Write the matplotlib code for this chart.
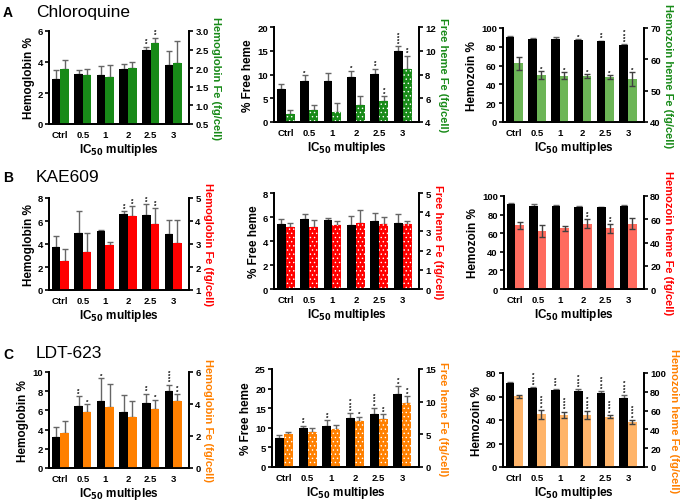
import matplotlib.pyplot as plt
import numpy as np

plt.rcParams['font.family'] = ['Liberation Sans', 'DejaVu Sans']
plt.rcParams['hatch.linewidth'] = 0.5

groups = ["Ctrl", "0.5", "1", "2", "2.5", "3"]

# Chloroquine
cq_hb = [2.9, 3.2, 3.16, 3.55, 4.76, 3.78]
cq_hb_err = [0.6, 0.26, 0.6, 0.34, 0.24, 0.9]
cq_hb_stars = [0, 0, 0, 0, 2, 0]
cq_hbfe = [1.99, 1.82, 1.77, 2.0, 2.69, 2.15]
cq_hbfe_err = [0.24, 0.15, 0.31, 0.18, 0.13, 0.57]
cq_hbfe_stars = [0, 0, 0, 0, 2, 0]

cq_fh = [6.9, 8.7, 8.7, 9.5, 10.2, 14.9]
cq_fh_err = [1.0, 1.1, 1.6, 1.3, 1.0, 1.0]
cq_fh_stars = [0, 1, 0, 1, 2, 4]
cq_fhfe = [4.7, 5.03, 4.86, 5.4, 5.8, 8.5]
cq_fhfe_err = [0.33, 0.42, 0.74, 0.75, 0.4, 1.1]
cq_fhfe_stars = [0, 0, 0, 0, 2, 2]

cq_hz = [90, 88.6, 88.3, 87.2, 85.8, 81.6]
cq_hz_err = [2.0, 0.8, 1.8, 1.1, 0.8, 1.1]
cq_hz_stars = [0, 0, 0, 1, 2, 4]
cq_hzfe = [58.8, 55.0, 54.8, 54.6, 54.4, 53.7]
cq_hzfe_err = [2.1, 1.3, 1.1, 0.7, 0.6, 2.2]
cq_hzfe_stars = [0, 1, 1, 1, 1, 1]

# KAE609
kae_hb = [3.7, 4.94, 5.15, 6.63, 6.5, 4.85]
kae_hb_err = [1.0, 1.9, 0.07, 0.23, 0.97, 1.25]
kae_hb_stars = [0, 0, 0, 2, 2, 0]
kae_hbfe = [2.24, 2.67, 2.95, 4.2, 3.88, 3.05]
kae_hbfe_err = [0.55, 0.83, 0.15, 0.44, 0.67, 1.0]
kae_hbfe_stars = [0, 0, 0, 2, 2, 0]

kae_fh = [5.4, 5.84, 5.76, 5.37, 5.68, 5.48]
kae_fh_err = [0.4, 0.42, 0.17, 0.73, 0.69, 0.75]
kae_fh_stars = [0, 0, 0, 0, 0, 0]
kae_fhfe = [3.25, 3.24, 3.34, 3.43, 3.39, 3.39]
kae_fhfe_err = [0.18, 0.36, 0.22, 0.67, 0.36, 0.17]
kae_fhfe_stars = [0, 0, 0, 0, 0, 0]

kae_hz = [91, 89.3, 89.3, 88.3, 87.9, 89.7]
kae_hz_err = [1.5, 2.5, 0.5, 1.0, 0.7, 0.8]
kae_hz_stars = [0, 0, 0, 0, 0, 0]
kae_hzfe = [54.7, 49.6, 52.1, 56.1, 52.1, 56.1]
kae_hzfe_err = [2.8, 5.1, 2.0, 3.7, 3.5, 4.6]
kae_hzfe_stars = [0, 0, 0, 2, 2, 0]

# LDT-623
ldt_hb = [3.2, 6.43, 7.0, 5.84, 6.82, 8.0]
ldt_hb_err = [1.1, 1.02, 2.34, 1.76, 0.94, 0.67]
ldt_hb_stars = [0, 2, 1, 0, 2, 4]
ldt_hbfe = [2.2, 3.5, 3.84, 3.19, 3.71, 4.19]
ldt_hbfe_err = [0.74, 0.5, 1.44, 1.02, 0.55, 0.44]
ldt_hbfe_stars = [0, 1, 0, 0, 1, 2]

ldt_fh = [7.5, 9.86, 10.5, 12.6, 13.6, 18.5]
ldt_fh_err = [0.6, 0.64, 1.4, 1.1, 1.45, 2.2]
ldt_fh_stars = [0, 2, 2, 4, 4, 2]
ldt_fhfe = [5.05, 5.4, 5.77, 7.04, 7.4, 9.74]
ldt_fhfe_err = [0.35, 0.5, 0.71, 0.66, 0.7, 1.13]
ldt_fhfe_stars = [0, 0, 0, 1, 2, 2]

ldt_hz = [71.7, 66.9, 65.7, 64.9, 63.4, 58.9]
ldt_hz_err = [0.6, 0.9, 1.1, 1.1, 1.1, 2.0]
ldt_hz_stars = [0, 4, 3, 4, 4, 4]
ldt_hzfe = [75.4, 56.0, 55.4, 55.4, 53.6, 47.9]
ldt_hzfe_err = [1.6, 4.7, 3.5, 3.9, 1.8, 2.1]
ldt_hzfe_stars = [0, 4, 4, 4, 4, 4]

green = "#188a18"
green_l = "#6cb556"
red = "#ff0000"
red_l = "#ff6b5e"
orange = "#ff8000"
orange_l = "#ffb469"

# (left, right, top, bottom) in pixels, left data, right data, axis settings
panels = [
    ((49, 189, 32, 125), cq_hb, cq_hb_err, cq_hb_stars, cq_hbfe, cq_hbfe_err, cq_hbfe_stars,
     (0, 6, 2), (0.5, 3.0, 0.5), "Hemoglobin %", "Hemoglobin Fe (fg/cell)", green, green, None, False),
    ((274, 419, 28, 123), cq_fh, cq_fh_err, cq_fh_stars, cq_fhfe, cq_fhfe_err, cq_fhfe_stars,
     (0, 20, 5), (4, 12, 2), "% Free heme", "Free heme Fe (fg/cell)", green, green, "....", False),
    ((503, 644, 29, 123), cq_hz, cq_hz_err, cq_hz_stars, cq_hzfe, cq_hzfe_err, cq_hzfe_stars,
     (0, 100, 20), (40, 70, 10), "Hemozoin %", "Hemozoin heme Fe (fg/cell)", green_l, green, None, True),
    ((49, 189, 199, 291), kae_hb, kae_hb_err, kae_hb_stars, kae_hbfe, kae_hbfe_err, kae_hbfe_stars,
     (0, 8, 2), (1, 5, 1), "Hemoglobin %", "Hemoglobin Fe (fg/cell)", red, red, None, False),
    ((274, 419, 194, 290), kae_fh, kae_fh_err, kae_fh_stars, kae_fhfe, kae_fhfe_err, kae_fhfe_stars,
     (0, 8, 2), (0, 5, 1), "% Free heme", "Free heme Fe (fg/cell)", red, red, "....", False),
    ((504, 644, 197, 290), kae_hz, kae_hz_err, kae_hz_stars, kae_hzfe, kae_hzfe_err, kae_hzfe_stars,
     (0, 100, 20), (0, 80, 20), "Hemozoin %", "Hemozoin heme Fe (fg/cell)", red_l, red, None, True),
    ((49, 189, 373, 469), ldt_hb, ldt_hb_err, ldt_hb_stars, ldt_hbfe, ldt_hbfe_err, ldt_hbfe_stars,
     (0, 10, 2), (0, 6, 2), "Hemoglobin %", "Hemoglobin Fe (fg/cell)", orange, orange, None, False),
    ((272, 419, 370, 468), ldt_fh, ldt_fh_err, ldt_fh_stars, ldt_fhfe, ldt_fhfe_err, ldt_fhfe_stars,
     (0, 25, 5), (0, 15, 5), "% Free heme", "Free heme Fe (fg/cell)", orange, orange, "....", False),
    ((503, 644, 374, 468), ldt_hz, ldt_hz_err, ldt_hz_stars, ldt_hzfe, ldt_hzfe_err, ldt_hzfe_stars,
     (0, 80, 20), (0, 100, 20), "Hemozoin %", "Hemozoin heme Fe (fg/cell)", orange_l, orange, None, True),
]

W, H = 684, 502
fig = plt.figure(figsize=(W / 100, H / 100), dpi=100)

x = np.arange(len(groups))
bw = 0.38
errc = "0.4"


def stars(ax, xs, tops, counts):
    for xi, t, n in zip(xs, tops, counts):
        if n:
            ax.annotate("\n".join("*" * n), (xi, t), xytext=(0, 0.3), textcoords="offset points",
                        ha="center", va="bottom", fontsize=4.5, fontweight="bold",
                        linespacing=0.55)


for (box, lv, le, ls, rv, re, rs, lax, rax, llab, rlab, col, labcol, hatch, sym) in panels:
    l, r, t, b = box
    ax = fig.add_axes([l / W, 1 - b / H, (r - l) / W, (b - t) / H])
    ax2 = ax.twinx()
    ax.bar(x - bw / 2, lv, bw, color="black", zorder=2)
    ax.errorbar(x - bw / 2, lv, yerr=[np.zeros(len(le)), le], fmt="none", ecolor=errc,
                elinewidth=1, capsize=2.5, capthick=1, zorder=1)
    if hatch:
        ax2.bar(x + bw / 2, rv, bw, color=col, edgecolor="white", linewidth=0, hatch=hatch, zorder=2)
    else:
        ax2.bar(x + bw / 2, rv, bw, color=col, zorder=2)
    if sym:
        ax2.errorbar(x + bw / 2, rv, yerr=re, fmt="none", ecolor="0.25",
                     elinewidth=1, capsize=2.5, capthick=1, zorder=3)
    else:
        ax2.errorbar(x + bw / 2, rv, yerr=[np.zeros(len(re)), re], fmt="none", ecolor=errc,
                     elinewidth=1, capsize=2.5, capthick=1, zorder=1)
    stars(ax, x - bw / 2, np.array(lv) + np.array(le), ls)
    stars(ax2, x + bw / 2, np.array(rv) + np.array(re), rs)

    ax.set_xlim(-0.5, 5.7)
    ax.set_ylim(lax[0], lax[1])
    ax.set_yticks(np.arange(lax[0], lax[1] + lax[2] / 2, lax[2]))
    ax2.set_ylim(rax[0], rax[1])
    rt = np.arange(rax[0], rax[1] + rax[2] / 2, rax[2])
    ax2.set_yticks(rt)
    if rax[2] < 1:
        ax2.set_yticklabels(["%.1f" % v for v in rt])
    ax.set_xticks(x)
    ax.set_xticklabels(groups)
    for a in (ax, ax2):
        a.spines["top"].set_visible(False)
        for s in a.spines.values():
            s.set_linewidth(1.3)
        a.tick_params(width=1.2, length=3, pad=1.5, labelsize=6.8)
        for lab in a.get_xticklabels() + a.get_yticklabels():
            lab.set_fontweight("bold")
    ax.tick_params(axis="x", length=0, pad=4)
    ax.set_ylabel(llab, fontsize=8.5, fontweight="bold", labelpad=2)
    ax2.set_ylabel(rlab, fontsize=8, fontweight="bold", color=labcol, rotation=270,
                   labelpad=9)
    ax.set_xlabel("IC$_{\\mathbf{50}}$ multiples", fontsize=8.5, fontweight="bold", labelpad=2)

titles = [("A", "Chloroquine", 12), ("B", "KAE609", 177), ("C", "LDT-623", 354)]
for letter, name, yp in titles:
    fig.text(3 / W, 1 - (yp + 1) / H, letter, fontsize=10, fontweight="bold", va="center")
    fig.text(36 / W, 1 - yp / H, name, fontsize=12.5, va="center")

fig.savefig("out.png", dpi=100)
